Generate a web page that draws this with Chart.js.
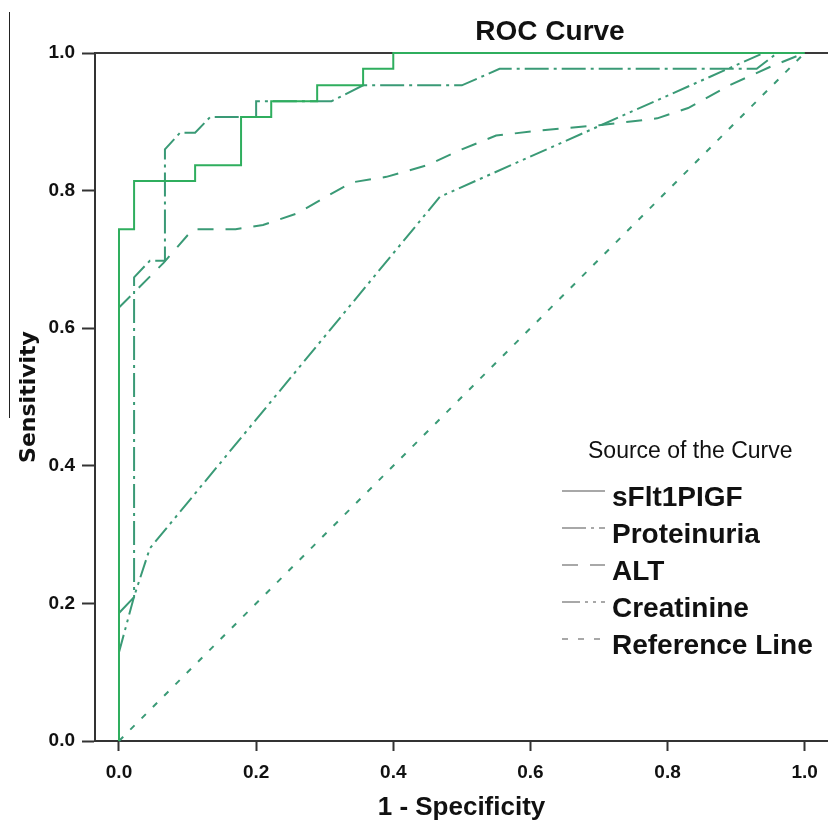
<!DOCTYPE html>
<html>
<head>
<meta charset="utf-8">
<script src="https://cdn.jsdelivr.net/npm/chart.js@4.4.1/dist/chart.umd.min.js"></script>
<style>
  html, body { margin: 0; padding: 0; background: #fff; }
  canvas { display: block; }
</style>
</head>
<body>
<canvas id="rocChart" width="828" height="823"></canvas>
<script>
// curve names, in legend order
const curveNames = ['sFlt1PIGF', 'Proteinuria', 'ALT', 'Creatinine', 'Reference Line'];

// 1 - specificity / sensitivity
const sfltX = [0, 0, 0.022, 0.022, 0.111, 0.111, 0.178, 0.178, 0.222, 0.222, 0.289, 0.289, 0.356, 0.356, 0.4, 0.4, 1];
const sfltY = [0, 0.744, 0.744, 0.814, 0.814, 0.837, 0.837, 0.907, 0.907, 0.93, 0.93, 0.953, 0.953, 0.977, 0.977, 1, 1];

const protX = [0, 0.022, 0.022, 0.045, 0.067, 0.067, 0.089, 0.111, 0.133, 0.2, 0.2, 0.31, 0.356, 0.5, 0.555, 0.93, 0.96, 1];
const protY = [0.186, 0.209, 0.674, 0.698, 0.698, 0.86, 0.884, 0.884, 0.907, 0.907, 0.93, 0.93, 0.953, 0.953, 0.977, 0.977, 1, 1];

const altX = [0, 0.02, 0.045, 0.065, 0.1, 0.11, 0.17, 0.21, 0.26, 0.3, 0.34, 0.39, 0.45, 0.5, 0.55, 0.61, 0.7, 0.785, 0.83, 0.89, 0.95, 1];
const altY = [0.63, 0.65, 0.675, 0.695, 0.735, 0.744, 0.744, 0.75, 0.767, 0.79, 0.812, 0.82, 0.837, 0.86, 0.88, 0.887, 0.895, 0.905, 0.92, 0.953, 0.98, 1];

const creaX = [0, 0.022, 0.045, 0.468, 0.94, 1];
const creaY = [0.129, 0.21, 0.28, 0.791, 1, 1];

const refX = [0, 1];
const refY = [0, 1];

const xTicks = [0, 0.2, 0.4, 0.6, 0.8, 1.0];
const yTicks = [0, 0.2, 0.4, 0.6, 0.8, 1.0];

function pts(xs, ys) {
    return xs.map((x, i) => ({ x: x, y: ys[i] }));
}

const green = '#3a9a76';
const curves = [
    { xs: sfltX, ys: sfltY, color: '#2fae5e', dash: [] },
    { xs: protX, ys: protY, color: green, dash: [24, 5, 3, 5] },
    { xs: altX, ys: altY, color: green, dash: [16, 12] },
    { xs: creaX, ys: creaY, color: green, dash: [18, 5, 3, 5, 3, 5] },
    { xs: refX, ys: refY, color: green, dash: [6, 10] }
];

const datasets = curves.map((c, i) => ({
    label: curveNames[i],
    data: pts(c.xs, c.ys),
    showLine: true,
    borderColor: c.color,
    borderWidth: 2,
    borderDash: c.dash,
    pointRadius: 0,
    clip: false
}));

const tickFont = { family: 'Liberation Sans, Arial, sans-serif', size: 19, weight: 'bold' };

// frame, title, legend
const rocDecor = {
    id: 'rocDecor',
    beforeDatasetsDraw(chart) {
        const { ctx, chartArea: a } = chart;
        ctx.save();
        ctx.strokeStyle = '#3a3a3a';
        ctx.lineWidth = 2;
        ctx.beginPath();
        ctx.moveTo(a.left, a.top);
        ctx.lineTo(a.right, a.top);
        ctx.stroke();
        ctx.restore();
    },
    afterDraw(chart) {
        const { ctx } = chart;
        ctx.save();
        // stray crop line on the left
        ctx.strokeStyle = '#222';
        ctx.lineWidth = 1;
        ctx.beginPath();
        ctx.moveTo(9.5, 12);
        ctx.lineTo(9.5, 418);
        ctx.stroke();

        ctx.fillStyle = '#111';
        ctx.textAlign = 'center';
        ctx.textBaseline = 'middle';
        ctx.font = 'bold 28px Liberation Sans, Arial, sans-serif';
        ctx.fillText('ROC Curve', 550, 32);

        ctx.textAlign = 'left';
        ctx.font = '23px Liberation Sans, Arial, sans-serif';
        ctx.fillText('Source of the Curve', 588, 452);

        ctx.font = 'bold 28px Liberation Sans, Arial, sans-serif';
        chart.data.datasets.forEach((ds, i) => {
            const y = 491 + i * 37;
            ctx.strokeStyle = '#a8a8a8';
            ctx.lineWidth = 2;
            ctx.setLineDash(ds.borderDash);
            ctx.beginPath();
            ctx.moveTo(562, y);
            ctx.lineTo(605, y);
            ctx.stroke();
            ctx.setLineDash([]);
            ctx.textBaseline = 'alphabetic';
            ctx.fillText(ds.label, 612, y + 15);
        });
        ctx.restore();
    }
};

new Chart(document.getElementById('rocChart'), {
    type: 'scatter',
    data: { datasets: datasets },
    options: {
        responsive: false,
        animation: false,
        devicePixelRatio: 1,
        layout: { padding: { top: 53, right: 0, bottom: 0, left: 0 } },
        plugins: {
            legend: { display: false },
            tooltip: { enabled: false },
            title: { display: false }
        },
        scales: {
            x: {
                type: 'linear',
                min: -0.035,
                max: 1.034,
                afterBuildTicks: s => { s.ticks = xTicks.map(v => ({ value: v })); },
                afterFit: s => { s.height = 82; },
                ticks: { callback: v => v.toFixed(1), font: tickFont, color: '#111', padding: 10, maxRotation: 0 },
                grid: { drawOnChartArea: false, drawTicks: true, tickLength: 10, tickColor: '#333', tickWidth: 2 },
                border: { color: '#333', width: 2 },
                title: {
                    display: true,
                    text: '1 - Specificity',
                    color: '#111',
                    font: { family: 'Liberation Sans, Arial, sans-serif', size: 26, weight: 'bold' },
                    padding: { top: 0, bottom: 0 }
                }
            },
            y: {
                min: 0,
                max: 1,
                afterBuildTicks: s => { s.ticks = yTicks.map(v => ({ value: v })); },
                afterFit: s => { s.width = 95; },
                ticks: { callback: v => v.toFixed(1), font: tickFont, color: '#111', padding: 7 },
                grid: { drawOnChartArea: false, drawTicks: true, tickLength: 13, tickColor: '#333', tickWidth: 2 },
                border: { color: '#333', width: 2 },
                title: {
                    display: true,
                    text: 'Sensitivity',
                    color: '#111',
                    font: { family: 'DejaVu Sans, sans-serif', size: 22, weight: 'bold' },
                    padding: { top: 16, bottom: 0 }
                }
            }
        }
    },
    plugins: [rocDecor]
});
</script>
</body>
</html>
